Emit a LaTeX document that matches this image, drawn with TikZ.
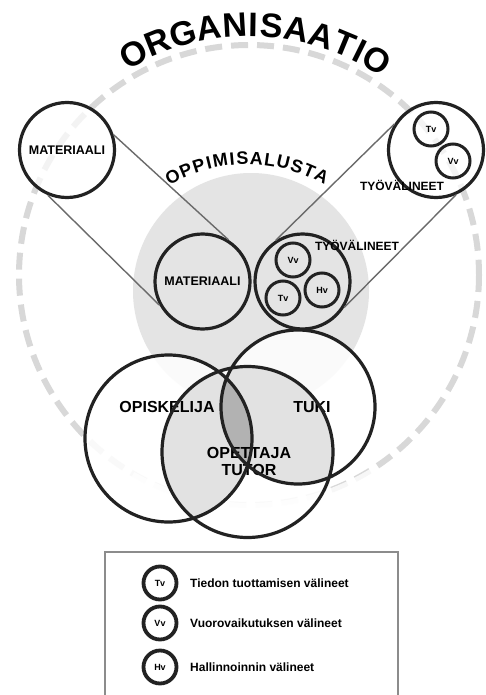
\documentclass[tikz,border=0pt]{standalone}
\usepackage{fontspec}
\setmainfont{Liberation Sans}
\definecolor{ink}{HTML}{222222}
\definecolor{disc}{HTML}{E4E4E4}
\definecolor{dashc}{HTML}{D8D8D8}
\definecolor{linec}{HTML}{6A6A6A}
\definecolor{pairc}{HTML}{E2E2E2}
\definecolor{lensc}{HTML}{B2B2B2}
\definecolor{framec}{HTML}{8C8C8C}
\tikzset{
  bigc/.style={circle, draw=ink, line width=3.2pt, minimum size=95pt, inner sep=0pt,
    font=\fontsize{12.5}{12.5}\selectfont\bfseries},
  smallc/.style={circle, draw=ink, line width=3pt, minimum size=34pt, inner sep=0pt,
    font=\fontsize{9}{9}\selectfont\bfseries},
  legc/.style={circle, draw=ink, line width=3.8pt, minimum size=33pt, inner sep=0pt,
    font=\fontsize{9}{9}\selectfont\bfseries},
  lbl/.style={inner sep=0pt, font=\fontsize{12}{12}\selectfont\bfseries},
  vlbl/.style={inner sep=0pt, align=center, font=\fontsize{16}{17}\selectfont\bfseries},
  legt/.style={anchor=west, inner sep=0pt, font=\fontsize{12}{12}\selectfont\bfseries},
  titlel/.style={inner sep=0pt, anchor=center, font=\fontsize{34}{34}\selectfont\bfseries},
  subl/.style={inner sep=0pt, anchor=center, font=\fontsize{18}{18}\selectfont\bfseries},
  conn/.style={draw=linec, line width=1.4pt},
}
\begin{document}
\begin{tikzpicture}[x=1pt,y=-1pt]
\useasboundingbox (0,0) rectangle (486,695);
\fill[white] (0,0) rectangle (486,695);

% outer dashed ring (ORGANISAATIO)
\coordinate (oc) at (249,275);
\draw[dashc, line width=6pt, dash pattern=on 17pt off 9pt] (oc) circle[radius=230];
% soften ring behind the title
\draw[white, line width=36pt, opacity=.8] (249.5,273) ++(120:248) arc[start angle=120, end angle=58, radius=248];

% title letters along an arc
\foreach \l/\a [count=\i] in {O/-27.9, R/-21.7, G/-15.6, A/-9.4, N/-3.4, I/1.0, S/5.1, A/10.9, A/16.9, T/22.5, I/26.4, O/30.9}
  \node[titlel, rotate=-\a] (org\i) at ({249.5+248*sin(\a)}, {273-248*cos(\a)}) {\l};

% learning platform disc
\coordinate (dc) at (251,291);
\fill[disc] (dc) circle[radius=118];

\foreach \l/\a [count=\i] in {O/-27.7, P/-22.5, P/-17.6, I/-13.85, M/-9.63, I/-5.41, S/-1.65, A/3.39, L/8.28, U/13.16, S/18.21, T/22.93, A/27.82}
  \node[subl, rotate=-\a] (opp\i) at ({247+160*sin(\a)}, {318-160*cos(\a)}) {\l};

% top-left and top-right magnified circles
\node[bigc, fill=white, fill opacity=.7, text opacity=1] (tl) at (67,150) {MATERIAALI};
\node[bigc, fill=white, fill opacity=.7] (tr) at (436,150) {};
\node[smallc] (trtv) at (431,129) {Tv};
\node[smallc] (trvv) at (453,161) {Vv};
\node[lbl] (trl) at (402,185) {TYÖVÄLINEET};

% middle circles
\node[bigc] (mm) at (202.5,281.5) {MATERIAALI};
\node[bigc] (mt) at (302.5,281.5) {};
\node[smallc] (mvv) at (293,260) {Vv};
\node[smallc] (mtv) at (283,298) {Tv};
\node[smallc] (mhv) at (322,290) {Hv};
\node[lbl] (mtl) at (357,245) {TYÖVÄLINEET};

% zoom connectors
\draw[conn] (tl.18) -- (mm.58);
\draw[conn] (tl.247) -- (mm.209);
\draw[conn] (mt.123.5) -- (tr.148);
\draw[conn] (mt.-32) -- (tr.-66);

% Venn diagram
\coordinate (va) at (168.5,438.5);
\coordinate (vb) at (298,407);
\coordinate (vc) at (247.5,452);
\fill[white, fill opacity=.85] (va) circle[radius=83.5] (vb) circle[radius=77] (vc) circle[radius=85.5];
\begin{scope}
  \clip (va) circle[radius=83.5];
  \fill[pairc] (vc) circle[radius=85.5];
\end{scope}
\begin{scope}
  \clip (vb) circle[radius=77];
  \fill[pairc] (vc) circle[radius=85.5];
\end{scope}
\begin{scope}
  \clip (va) circle[radius=83.5];
  \fill[lensc] (vb) circle[radius=77];
\end{scope}
\node[vlbl] (lop) at (167,407) {OPISKELIJA};
\node[vlbl] (ltu) at (312,407) {TUKI};
\node[vlbl] (lot) at (249,461) {OPETTAJA\\TUTOR};
\draw[ink, line width=3.2pt] (va) circle[radius=83.5] (vb) circle[radius=77] (vc) circle[radius=85.5];

% legend
\coordinate (f1) at (105,700);
\coordinate (f2) at (105,552);
\coordinate (f3) at (398,552);
\coordinate (f4) at (398,700);
\draw[framec, line width=1.5pt] (f1) -- (f2) -- (f3) -- (f4);
\node[legc] (lg1) at (160,583) {Tv};
\node[legc] (lg2) at (160,623) {Vv};
\node[legc] (lg3) at (160,667) {Hv};
\node[legt] (lgt1) at (190,583) {Tiedon tuottamisen välineet};
\node[legt] (lgt2) at (190,623) {Vuorovaikutuksen välineet};
\node[legt] (lgt3) at (190,667) {Hallinnoinnin välineet};
\end{tikzpicture}
\end{document}
